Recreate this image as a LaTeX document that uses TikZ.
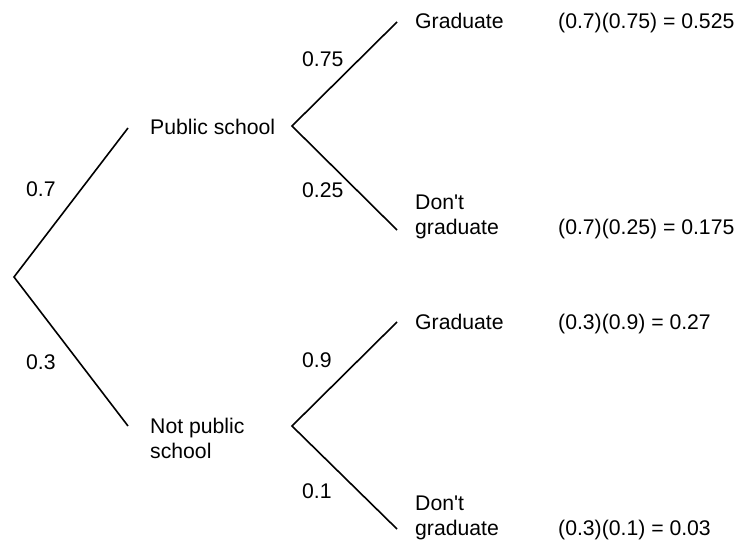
\documentclass[tikz,border=0pt]{standalone}
\usepackage{fontspec}
\setmainfont{Liberation Sans}
\begin{document}
\begin{tikzpicture}[x=1pt,y=-1pt,
  txt/.style={anchor=base west,inner sep=0pt,font=\fontsize{21.2}{24.5}\selectfont,align=left},
  branch/.style={line width=1.6pt}]
\useasboundingbox (0,0) rectangle (755,540);
% branch points
\coordinate (root) at (14,277);
\coordinate (ps) at (128,128);
\coordinate (nps) at (128,426);
\coordinate (ps0) at (292,126);
\coordinate (psg) at (397,22);
\coordinate (psd) at (397,230);
\coordinate (nps0) at (292,426);
\coordinate (npsg) at (397,322);
\coordinate (npsd) at (397,529);
% branches
\draw[branch] (ps) -- (root) -- (nps);
\draw[branch] (psg) -- (ps0) -- (psd);
\draw[branch] (npsg) -- (nps0) -- (npsd);
% outcome texts (base = last line)
\node[txt] (tps) at (150,135) {Public school};
\node[txt] (tnps) at (150,458) {Not public\\school};
\node[txt] (tg1) at (415,29) {Graduate};
\node[txt] (td1) at (415,234) {Don\textquotesingle t\\graduate};
\node[txt] (tg2) at (415,329) {Graduate};
\node[txt] (td2) at (415,535) {Don\textquotesingle t\\graduate};
% probabilities
\node[txt] (p07) at (26,197) {0.7};
\node[txt] (p03) at (26,369) {0.3};
\node[txt] (p075) at (302,67) {0.75};
\node[txt] (p025) at (302,198) {0.25};
\node[txt] (p09) at (302,367) {0.9};
\node[txt] (p01) at (302,498) {0.1};
% products
\node[txt] (r1) at (558,29) {(0.7)(0.75) = 0.525};
\node[txt] (r2) at (558,234) {(0.7)(0.25) = 0.175};
\node[txt] (r3) at (558,329) {(0.3)(0.9) = 0.27};
\node[txt] (r4) at (558,535) {(0.3)(0.1) = 0.03};
\end{tikzpicture}
\end{document}
